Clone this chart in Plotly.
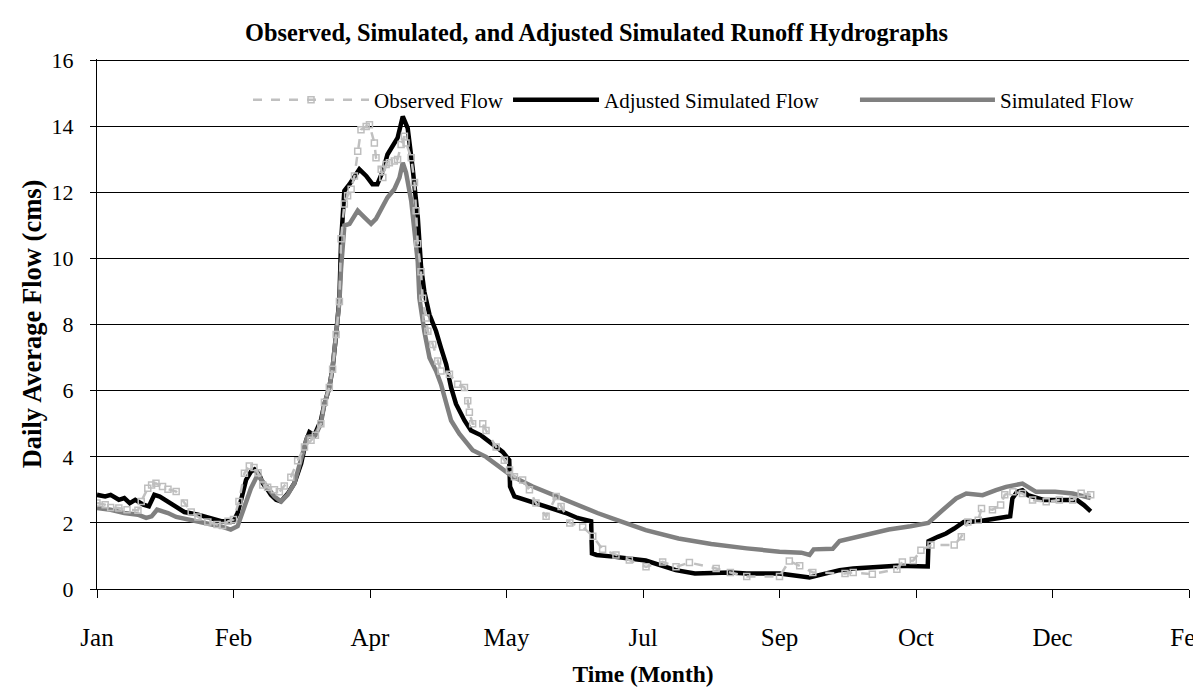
import plotly.graph_objects as go

# ---- data (day of record, value in cms) ----
MONTH_TICK_DAYS = [0, 50, 100, 150, 200, 250, 300, 350, 400]
MONTH_TICK_LABELS = ["Jan", "Feb", "Apr", "May", "Jul", "Sep", "Oct", "Dec", "Feb"]
FLOW_TICKS = [0, 2, 4, 6, 8, 10, 12, 14, 16]

obs_day = [0, 3, 5, 8, 11, 15, 16.2, 18.6, 20, 21.6, 24, 26, 29, 32, 34.5, 37, 40.6, 44, 46, 48, 50,
           52, 54, 55.8, 57.5, 59, 60.7, 62.5, 65, 66.8, 68.6, 71, 73.5, 76, 78.4, 80, 82, 83.3, 85.1,
           86.3, 87.6, 88.8, 89.4, 90.6, 91.8, 93.1, 94.3, 95.5, 96.7, 98.6, 99.8, 101.6, 102.2, 104.1,
           104.7, 105.9, 107.1, 108.9, 110.1, 111.4, 112.6, 113.2, 115.1, 116.3, 116.9, 117.5, 118.7,
           119.3, 120.5, 121.2, 123.0, 124.8, 126.0, 129.1, 132.1, 134.6, 135.8, 136.4, 137.6, 141.3,
           142.5, 146.2, 149.2, 151.1, 152.9, 155.9, 158.4, 160.8, 164.5, 168.2, 170.0, 173.2, 177.9,
           181.6, 185.2, 190.1, 195, 201.1, 207.2, 212.1, 217.0, 226.8, 232, 238, 250, 253.6, 257.4,
           262.2, 274, 277, 284, 293, 295, 299, 301.8, 305.5, 314, 316.6, 319, 322.8, 324, 328, 331,
           332.5, 335.5, 339, 342.7, 347.7, 352.5, 357.4, 360.5, 364]
obs_flow = [2.6, 2.55, 2.47, 2.45, 2.4, 2.38, 2.65, 3.05, 3.15, 3.2, 3.1, 3.02, 2.95, 2.6, 2.33, 2.18,
            2.03, 1.95, 1.92, 2.05, 2.1, 2.65, 3.5, 3.72, 3.68, 3.52, 3.15, 3.08, 3.0, 2.94, 3.12, 3.38,
            3.88, 4.3, 4.5, 4.65, 5.0, 5.65, 6.1, 6.65, 7.7, 8.7, 10.6, 11.65, 11.9, 12.1, 12.5, 13.25,
            13.9, 14.0, 14.05, 13.5, 13.05, 12.7, 12.45, 12.85, 12.9, 12.95, 13.0, 13.45, 13.7, 13.5,
            13.05, 12.3, 11.45, 10.45, 9.6, 8.8, 8.2, 7.8, 7.4, 6.9, 6.6, 6.5, 6.2, 6.1, 5.7, 5.35, 5.0,
            5.0, 4.8, 4.3, 3.9, 3.6, 3.4, 3.3, 3.0, 2.6, 2.2, 2.8, 2.5, 2.0, 1.88, 1.6, 1.2, 1.03, 0.88,
            0.67, 0.82, 0.67, 0.8, 0.62, 0.5, 0.38, 0.38, 0.85, 0.7, 0.5, 0.47, 0.5, 0.45, 0.6, 0.82,
            0.86, 1.17, 1.33, 1.33, 1.58, 2.03, 2.08, 2.44, 2.4, 2.54, 2.85, 2.94, 2.89, 2.69, 2.64,
            2.69, 2.69, 2.9, 2.85]

adj_day = [0, 3, 5, 8, 10, 12, 14, 17, 19, 21, 23, 26, 29.6, 32, 37, 42, 45.5, 50, 51.5, 52.8, 54.6,
           56.4, 57.7, 59.5, 60.7, 62.5, 63.7, 65.6, 67.4, 70, 72.3, 74.8, 76.6, 77.8, 79.6, 82, 83.3,
           85.1, 86.3, 87.6, 88.8, 89.4, 90.6, 92.5, 94.3, 96.1, 98.6, 100.9, 102.7, 104.7, 106.4,
           108.9, 110.1, 112.0, 113.8, 115.6, 117.5, 118.7, 119.9, 121.8, 124.2, 126.0, 127.9, 129.7,
           131.5, 134.6, 137.0, 140.7, 144.9, 148.6, 151.0, 151.3, 152.9, 158.4, 164.5, 171.8, 176,
           179.7, 181.0, 181.3, 183, 189, 201, 212, 219, 232, 238, 250, 256, 261, 266, 272, 277, 284,
           293, 304.3, 304.6, 308, 311, 314, 317.5, 323, 328, 334.5, 335.3, 337, 339, 341, 347, 356,
           359, 361.5, 364]
adj_flow = [2.85, 2.8, 2.85, 2.7, 2.75, 2.6, 2.7, 2.55, 2.5, 2.85, 2.8, 2.65, 2.45, 2.33, 2.25, 2.13,
            2.05, 2.05, 2.3, 2.7, 3.3, 3.55, 3.62, 3.45, 3.2, 3.0, 2.85, 2.7, 2.65, 2.9, 3.2, 3.8, 4.5,
            4.75, 4.65, 5.1, 5.6, 6.1, 6.7, 7.7, 8.8, 10.5, 12.05, 12.25, 12.5, 12.7, 12.5, 12.25,
            12.25, 12.65, 13.15, 13.45, 13.65, 14.3, 13.95, 12.75, 11.25, 9.75, 9.0, 8.3, 7.8, 7.3,
            6.8, 6.1, 5.6, 5.1, 4.8, 4.65, 4.4, 4.15, 3.9, 3.1, 2.8, 2.65, 2.5, 2.3, 2.15, 2.05, 2.05,
            1.08, 1.03, 0.98, 0.86, 0.57, 0.47, 0.5, 0.47, 0.47, 0.42, 0.35, 0.45, 0.57, 0.62, 0.66,
            0.7, 0.68, 1.45, 1.58, 1.68, 1.83, 2.03, 2.05, 2.13, 2.2, 2.74, 2.94, 2.99, 2.84, 2.69,
            2.69, 2.69, 2.54, 2.35]

sim_day = [0, 5, 10, 15, 18, 20, 22, 26, 29, 33, 37, 42, 46, 49, 51.5, 54, 56.4, 58.8, 61.3, 65,
           67.4, 69.8, 72.3, 74.8, 77, 80, 82, 83.3, 85.1, 86.3, 87.6, 88.8, 89.4, 90.6, 92.5, 95.5,
           97.3, 100.4, 102.2, 104.7, 106.4, 108.9, 110.8, 112.0, 113.2, 115.1, 116.3, 117.5, 118.1,
           119.9, 121.8, 124.2, 126.0, 127.9, 129.7, 132.7, 137.6, 142.5, 147.4, 152.3, 159.6, 168.2,
           176.4, 183.3, 189, 197, 201, 213, 225, 238, 250, 258, 261, 262.5, 269.5, 272, 277, 283,
           290, 298, 304.5, 309.8, 314.7, 318.4, 324.4, 329.3, 333, 339, 344, 351, 357.4, 364]
sim_flow = [2.45, 2.4, 2.3, 2.25, 2.15, 2.2, 2.4, 2.3, 2.18, 2.1, 2.05, 1.95, 1.88, 1.8, 1.9, 2.45,
            3.05, 3.45, 3.2, 2.8, 2.65, 2.85, 3.2, 3.95, 4.6, 4.65, 5.0, 5.6, 6.1, 6.7, 7.7, 8.7, 9.7,
            11.0, 11.05, 11.45, 11.3, 11.05, 11.2, 11.55, 11.85, 12.1, 12.45, 12.9, 12.6, 11.75, 10.7,
            9.9, 8.8, 7.8, 7.0, 6.6, 6.2, 5.6, 5.1, 4.7, 4.2, 4.0, 3.7, 3.4, 3.1, 2.8, 2.54, 2.3, 2.13,
            1.9, 1.78, 1.53, 1.36, 1.23, 1.13, 1.1, 1.03, 1.2, 1.22, 1.45, 1.55, 1.68, 1.8, 1.9, 2.0,
            2.39, 2.74, 2.89, 2.84, 2.99, 3.09, 3.19, 2.94, 2.94, 2.89, 2.75]

FONT = "Liberation Serif, Times New Roman, serif"
LEG_Y = 0.9226


def leg(x, itemwidth):
    return dict(orientation="h", x=x, xanchor="left", y=LEG_Y, yanchor="middle",
                bgcolor="rgba(0,0,0,0)", borderwidth=0, itemwidth=itemwidth,
                font=dict(family=FONT, size=21, color="black"))


fig = go.Figure()
fig.add_trace(go.Scatter(
    x=adj_day, y=adj_flow, mode="lines", name="Adjusted Simulated Flow",
    line=dict(color="#000000", width=4.5), legend="legend2"))
fig.add_trace(go.Scatter(
    x=sim_day, y=sim_flow, mode="lines", name="Simulated Flow",
    line=dict(color="#808080", width=4.5), legend="legend3"))
fig.add_trace(go.Scatter(
    x=obs_day, y=obs_flow, mode="lines+markers", name="Observed Flow",
    line=dict(color="#C0C0C0", width=2.5, dash="dash"),
    marker=dict(symbol="square-open", size=6, color="#BEBEBE", line=dict(width=1.5, color="#BEBEBE")),
    legend="legend"))

fig.update_layout(
    width=1193, height=689,
    margin=dict(l=97, r=4, t=59, b=100, autoexpand=False),
    paper_bgcolor="white", plot_bgcolor="white",
    font=dict(family=FONT, color="black", size=21),
    title=dict(text="<b>Observed, Simulated, and Adjusted Simulated Runoff Hydrographs</b>",
               x=0.5, xanchor="center", y=1 - 32 / 689, yanchor="middle",
               font=dict(family=FONT, size=24.3, color="black")),
    showlegend=True,
    legend=leg(0.1383, 116),
    legend2=leg(0.3764, 86),
    legend3=leg(0.6941, 135),
    xaxis=dict(range=[0, 400], tickvals=MONTH_TICK_DAYS, ticktext=MONTH_TICK_LABELS,
               automargin=False,
               ticks="outside", ticklen=8, tickcolor="black", showline=True, linecolor="black",
               linewidth=1, showgrid=False, zeroline=False, ticklabelstandoff=18,
               ticklabeloverflow="allow",
               title=dict(text="<b>Time (Month)</b>", font=dict(family=FONT, size=23.5), standoff=15),
               tickfont=dict(family=FONT, size=25)),
    yaxis=dict(range=[0, 16.04], tickvals=FLOW_TICKS, ticks="outside", automargin=False,
               ticklen=6, tickcolor="black",
               showline=True, linecolor="black", linewidth=1, showgrid=True, gridcolor="#000000",
               gridwidth=1, zeroline=False, ticklabelstandoff=12,
               title=dict(text="<b>Daily Average Flow (cms)</b>", font=dict(family=FONT, size=26.5),
                          standoff=2),
               tickfont=dict(family=FONT, size=22)),
)

# remove the default page margin so the figure fills the 1193x689 window exactly
fig.write_html("out.html", config={"displayModeBar": False},
               post_script="document.body.style.margin='0';")
